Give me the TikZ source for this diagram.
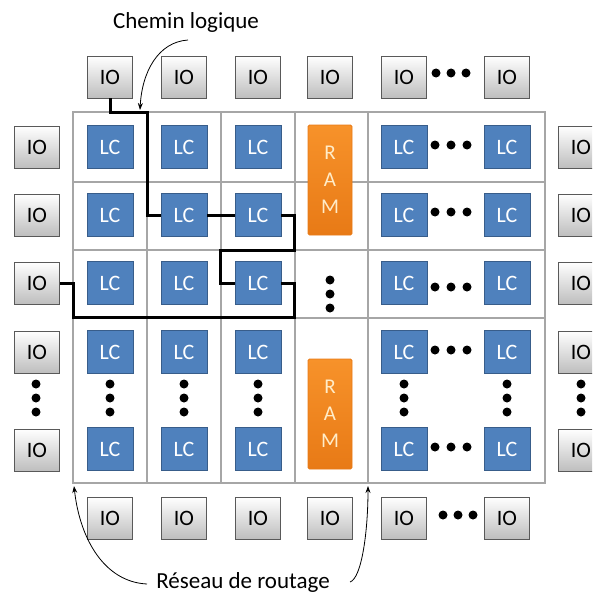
\documentclass[tikz,border=0pt]{standalone}
\usepackage{fontspec}
\setmainfont{Carlito}
\usepackage{tikz}
\usetikzlibrary{arrows.meta}
\definecolor{lcBlue}{RGB}{79,129,189}
\definecolor{lcBlueDark}{RGB}{56,93,138}
\definecolor{ioGray}{RGB}{190,190,190}
\definecolor{ioEdge}{RGB}{89,89,89}
\definecolor{ramOrange}{RGB}{247,146,42}
\definecolor{ramOrangeDark}{RGB}{232,122,22}
\definecolor{ramText}{RGB}{255,236,200}
\definecolor{gridGray}{RGB}{166,166,166}

\begin{document}
\begin{tikzpicture}[x=1pt,y=-1pt,
  io/.style={draw=ioEdge, line width=0.9pt, top color=white, bottom color=ioGray,
    minimum width=45pt, minimum height=42pt, inner sep=0pt, font=\fontsize{22}{26}\selectfont},
  lc/.style={draw=lcBlueDark, line width=0.9pt, fill=lcBlue, text=white,
    minimum width=46pt, minimum height=43pt, inner sep=0pt, font=\fontsize{22}{26}\selectfont},
  ram/.style={draw=ramOrangeDark, line width=0.9pt, rounded corners=1.5pt,
    top color=ramOrange, bottom color=ramOrangeDark, text=ramText,
    minimum width=44pt, minimum height=110pt, inner sep=0pt, align=center,
    font=\fontsize{21}{27}\selectfont},
  dot/.style={circle, fill=black, inner sep=0pt, minimum size=9pt},
  gridline/.style={gridGray, line width=2.2pt},
  route/.style={black, line width=3pt},
  callout/.style={-{Stealth[length=7pt,width=5pt]}, line width=0.8pt}]
\useasboundingbox (0,0) rectangle (592,594);
\clip (0,0) rectangle (592,594);

% routing grid
\draw[gridline] (73,112) rectangle (545,483);
\foreach \x in {147,221,295,368} \draw[gridline] (\x,112) -- (\x,483);
\foreach \y in {182,250,318} \draw[gridline] (73,\y) -- (545,\y);

% logic cells
\foreach \c/\x in {1/110,2/184,3/258,4/404,5/507}
  \foreach \r/\y in {1/147,2/215,3/283,4/352,5/449}
    \node[lc] (lc-\r-\c) at (\x,\y) {LC};
\foreach \y in {145,212,287,350,447}
  \foreach \dx in {-16,0,16} \node[dot] at (451+\dx,\y) {};

% memory blocks
\node[ram] (ram-a) at (330,180) {R\\A\\M};
\node[ram] (ram-b) at (330,414) {R\\A\\M};
\foreach \y in {280,294,308} \node[dot] at (330,\y) {};

% IO pads round the grid
\foreach \c/\x in {1/110,2/184,3/258,4/330,5/404,6/507} {
  \node[io] (io-t\c) at (\x,77) {IO};
  \node[io] (io-b\c) at (\x,518) {IO};
}
\foreach \r/\y in {1/147,2/215,3/283,4/352,5/450} {
  \node[io] (io-l\r) at (37,\y) {IO};
  \node[io] (io-r\r) at (581,\y) {IO};
}
\foreach \dx in {-15,0,15} {
  \node[dot] at (451+\dx,73) {};
  \node[dot] at (458+\dx,515) {};
}
\foreach \x in {36,110,184,258,404,507,581}
  \foreach \y in {384,398,412} \node[dot] at (\x,\y) {};

% logic path
\draw[route] (io-t1.south) |- (147,112) |- (lc-2-2.west);
\draw[route] (lc-2-2.east) -- (lc-2-3.west);
\draw[route] (lc-2-3.east) -| (294,250) -| (220,283) -- (lc-3-3.west);
\draw[route] (lc-3-3.east) -| (294,317) -| (73,283) -- (io-l3.east);

% labels
\node (chemin) at (186,22) {\fontsize{23}{27}\selectfont Chemin logique};
\node (reseau) at (243,582) {\fontsize{23}{27}\selectfont Réseau de routage};
\draw[callout] (188,40) .. controls (158,42) and (142,72) .. (140,110);
\draw[callout] (147,584) .. controls (105,582) and (80,540) .. (74,486);
\draw[callout] (350,582) .. controls (362,578) and (368,530) .. (368,486);
\end{tikzpicture}
\end{document}
